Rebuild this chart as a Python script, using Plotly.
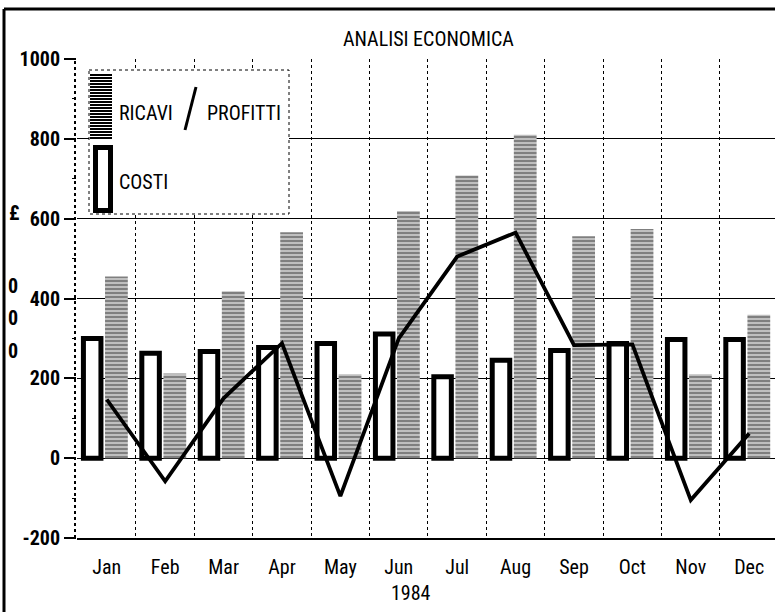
import plotly.graph_objects as go

months = ["Jan", "Feb", "Mar", "Apr", "May", "Jun", "Jul", "Aug", "Sep", "Oct", "Nov", "Dec"]
costi = [300, 263, 267, 277, 287, 311, 204, 245, 270, 287, 297, 297]
ricavi = [455, 212, 418, 566, 210, 619, 708, 810, 556, 574, 210, 359]
profitti = [147, -58, 150, 288, -95, 300, 505, 565, 283, 285, -105, 62]
y_ticks = [-200, 0, 200, 400, 600, 800, 1000]

FONT = "Roboto Condensed, DejaVu Sans Condensed, sans-serif"
W, H = 775, 612
L, R, T, B = 77, 775, 59, 538
xidx = list(range(len(months)))


def xp(px):
    return (px - L) / (R - L)


def yp(py):
    return (B - py) / (B - T)


fig = go.Figure()

fig.add_trace(go.Bar(
    x=xidx, y=costi, name="COSTI", width=0.30, offset=-0.40,
    marker=dict(color="white", line=dict(color="black", width=5)),
    showlegend=False,
))
fig.add_trace(go.Bar(
    x=xidx, y=ricavi, name="RICAVI", width=0.39, offset=-0.03,
    marker=dict(color="white", line=dict(width=0),
                pattern=dict(shape="-", fgcolor="black", bgcolor="white", size=4, solidity=0.75)),
    showlegend=False,
))
fig.add_trace(go.Scatter(
    x=xidx, y=profitti, name="PROFITTI", mode="lines",
    line=dict(color="black", width=3.8), showlegend=False,
))

shapes = []
# y axis dotted line
shapes.append(dict(type="line", xref="paper", yref="paper", x0=xp(75), x1=xp(75), y0=0, y1=1,
                   line=dict(color="black", width=2, dash="dot"), layer="above"))
# outer frame
shapes.append(dict(type="line", xref="paper", yref="paper", x0=xp(4), x1=xp(4), y0=yp(9), y1=yp(612),
                   line=dict(color="black", width=3)))
shapes.append(dict(type="line", xref="paper", yref="paper", x0=xp(4), x1=xp(775), y0=yp(9), y1=yp(9),
                   line=dict(color="black", width=3)))
# legend box
shapes.append(dict(type="rect", xref="paper", yref="paper", x0=xp(89), x1=xp(289), y0=yp(70), y1=yp(214),
                   fillcolor="white", line=dict(color="black", width=1, dash="dot"), layer="above"))
# hatched swatch
py = 75
while py <= 140:
    shapes.append(dict(type="line", xref="paper", yref="paper", x0=xp(90), x1=xp(112), y0=yp(py), y1=yp(py),
                       line=dict(color="black", width=2), layer="above"))
    py += 3
# costi swatch
shapes.append(dict(type="rect", xref="paper", yref="paper", x0=xp(95.5), x1=xp(110.5), y0=yp(147.5), y1=yp(210.5),
                   fillcolor="white", line=dict(color="black", width=5), layer="above"))
# profitti line sample (slash)
shapes.append(dict(type="line", xref="paper", yref="paper", x0=xp(185), x1=xp(196), y0=yp(130), y1=yp(87),
                   line=dict(color="black", width=3), layer="above"))

ann = []
def text(s, px, py, size=20, xanchor="center", bold=False):
    ann.append(dict(text=s, xref="paper", yref="paper", x=xp(px), y=yp(py),
                    xanchor=xanchor, yanchor="middle", showarrow=False,
                    font=dict(family=FONT, size=size, color="black", weight="bold" if bold else "normal")))

text("ANALISI ECONOMICA", 428, 39)
text("RICAVI", 117, 113, xanchor="left")
text("PROFITTI", 205, 113, xanchor="left")
text("COSTI", 117, 182, xanchor="left")
text("£", 14, 213, bold=True)
for yy in (286, 318, 351):
    text("0", 13, yy, bold=True)
text("1984", 411, 593)

fig.update_layout(
    width=W, height=H,
    margin=dict(l=L, r=W - R, t=T, b=H - B),
    paper_bgcolor="white", plot_bgcolor="white",
    barmode="overlay",
    shapes=shapes, annotations=ann,
    font=dict(family=FONT, size=20, color="black"),
    xaxis=dict(
        range=[-0.51, -0.51 + (R - L) / 58.4],
        tickmode="array", tickvals=xidx, ticktext=months,
        showgrid=False, zeroline=False,
        showline=True, linecolor="black", linewidth=2,
        ticks="outside", ticklen=10, tickcolor="rgba(0,0,0,0)",
        tickfont=dict(family=FONT, size=20, color="black"),
        minor=dict(tickmode="array", tickvals=[i + 0.5 for i in range(11)],
                   showgrid=True, gridcolor="black", griddash="dot", gridwidth=1, ticks=""),
    ),
    yaxis=dict(
        range=[-200, 1000],
        tickmode="array", tickvals=y_ticks, ticktext=[str(v) for v in y_ticks],
        showgrid=True, gridcolor="black", gridwidth=1,
        zeroline=True, zerolinecolor="black", zerolinewidth=1,
        showline=False,
        ticks="outside", ticklen=12, tickwidth=2, tickcolor="black",
        tickfont=dict(family=FONT, size=20, color="black", weight="bold"),
        minor=dict(dtick=100, tick0=0, ticks="outside", ticklen=4, tickcolor="black", tickwidth=1, showgrid=False),
    ),
)

fig.write_html("out.html", config={"displayModeBar": False},
               post_script="document.body.style.margin='0';document.body.style.overflow='hidden';")
